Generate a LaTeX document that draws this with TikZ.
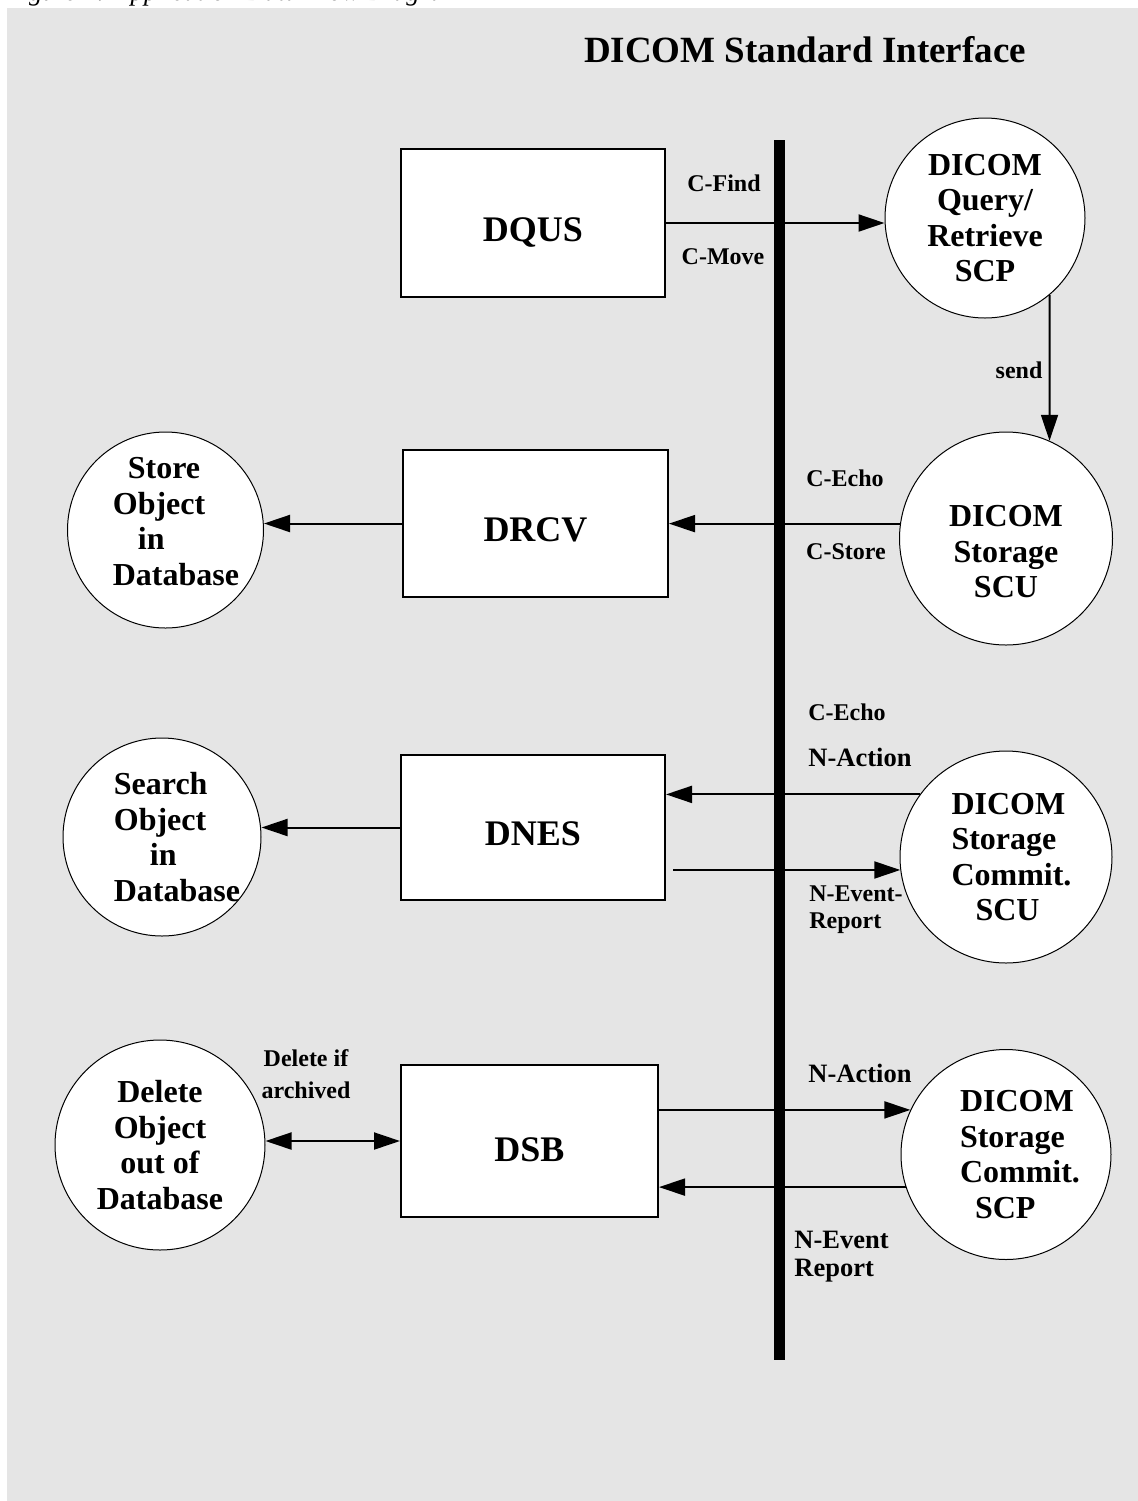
\documentclass[tikz,border=0pt]{standalone}
\usepackage{fontspec}
\setmainfont{Liberation Serif}
\usetikzlibrary{arrows.meta,calc}
\definecolor{panelgray}{HTML}{E5E5E5}
\begin{document}
\begin{tikzpicture}[x=0.5pt, y=-0.5pt, line join=miter, >={Triangle[length=13pt,width=8.5pt]},
	appbox/.style={draw, line width=1pt, fill=white, minimum width=132pt, minimum height=74pt, text height=18pt, text depth=0pt, font=\fontsize{18}{20}\selectfont\bfseries},
	proc/.style={draw, line width=0.5pt, fill=white, circle, inner sep=0pt, align=center, font=\fontsize{16}{17.75}\selectfont\bfseries},
	proctext/.style={inner sep=0pt, align=left, font=\fontsize{16}{17.75}\selectfont\bfseries},
	msg/.style={inner sep=0pt, font=\fontsize{12}{13.5}\selectfont\bfseries},
	bigmsg/.style={inner sep=0pt, align=left, font=\fontsize{13.25}{14}\selectfont\bfseries},
	flow/.style={->, line width=1pt}]
			\useasboundingbox (0,0) rectangle (1138,1501);
			\fill[panelgray] (7,8) rectangle (1138,1501);
			\node[anchor=base west, inner sep=0pt, font=\fontsize{13.3}{15}\selectfont\itshape] (caption) at (5,0) {Figure 1: Application Data Flow Diagram};
			\node[font=\fontsize{18.5}{20}\selectfont\bfseries] (title) at (805,50) {DICOM Standard Interface};
			% interface bus
			\coordinate (bustop) at (779.5,140);
			\coordinate (busbot) at (779.5,1360);
			\draw[line width=5.5pt] (bustop) -- (busbot);
			% application boxes
			\node[appbox] (dqus) at (533,223) {DQUS};
			\node[appbox, minimum width=132.5pt, minimum height=73.5pt] (drcv) at (535.5,523.5) {DRCV};
			\node[appbox, minimum height=72.5pt] (dnes) at (533,827.5) {DNES};
			\node[appbox, minimum width=128.5pt, minimum height=76pt, text height=20pt] (dsb) at (529.5,1141) {DSB};
			% processes
			\node[proc, minimum size=100pt] (qr) at (985,218) {DICOM\\Query/\\Retrieve\\SCP};
			\node[proc, minimum size=106.5pt, label={[proctext, align=center, yshift=-6.75pt]center:{DICOM\\Storage\\SCU}}] (scu) at (1006,538.5) {};
			\node[proc, minimum size=106pt, label={[proctext, xshift=2.75pt]center:{DICOM\\Storage\\Commit.\\\hspace*{12pt}SCU}}] (sscu) at (1006,857) {};
			\node[proc, minimum size=105pt, label={[proctext, xshift=7pt]center:{DICOM\\Storage\\Commit.\\\hspace*{7.5pt}SCP}}] (sscp) at (1006,1154.5) {};
			\node[proc, minimum size=98pt, label={[proctext, xshift=5.25pt, yshift=4.25pt]center:{\hspace*{7.5pt}Store\\Object\\\hspace*{12.5pt}in\\Database}}] (store) at (165.5,530) {};
			\node[proc, minimum size=99pt, label={[proctext, xshift=7.5pt]center:{Search\\Object\\\hspace*{18pt}in\\Database}}] (search) at (162,837) {};
			\node[proc, minimum size=105pt] (delete) at (160,1145) {Delete\\Object\\out of\\Database};
			% flows
			\draw[flow] (dqus.east) -- (dqus.east -| qr.west);
			\draw[flow] (qr.-50) -- (scu.66);
			\draw[flow] (scu.172) -- (scu.172 -| drcv.east);
			\draw[flow] (drcv.west) -- (drcv.west -| store.east);
			\draw[flow] (sscu.144) -- (sscu.144 -| dnes.east);
			\draw[flow] ($(dnes.east |- sscu.187)+(7,0)$) -- (sscu.187);
			\draw[flow] (dnes.west) -- (dnes.west -| search.east);
			\draw[flow] (dsb.east |- sscp.155) -- (sscp.155);
			\draw[flow] (sscp.198) -- (sscp.198 -| dsb.east);
			\draw[flow, <->] (dsb.west) -- (dsb.west -| delete.east);
			% messages
			\node[msg] (cfind) at (724,183) {C-Find};
			\node[msg] (cmove) at (723,257) {C-Move};
			\node[msg] (sendlbl) at (1019,370) {send};
			\node[msg] (cechoa) at (845,478) {C-Echo};
			\node[msg] (cstore) at (846,552) {C-Store};
			\node[msg] (cechob) at (847,712) {C-Echo};
			\node[bigmsg] (nactiona) at (860,757) {N-Action};
			\node[msg, align=left, anchor=west] (neventa) at (809,910) {N-Event-\\Report};
			\node[msg, align=center, font=\fontsize{12}{16}\selectfont\bfseries] (delif) at (306,1074) {Delete if\\archived};
			\node[bigmsg] (nactionb) at (860,1073) {N-Action};
			\node[bigmsg, anchor=west] (neventb) at (794,1257) {N-Event\\Report};
		\end{tikzpicture}
\end{document}
